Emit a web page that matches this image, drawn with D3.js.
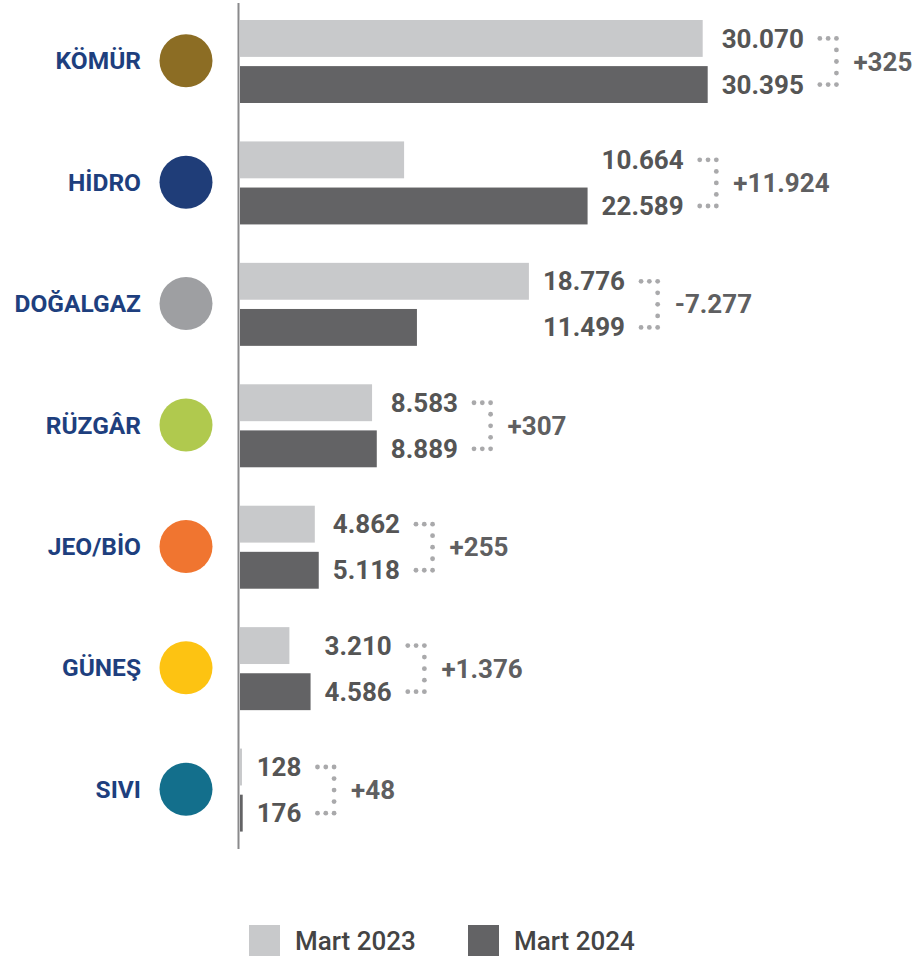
<!DOCTYPE html>
<meta charset="utf-8">
<body style="margin:0;background:#fff;">
<script src="https://d3js.org/d3.v7.min.js"></script>
<script>
	// Data
	var categories = ["KÖMÜR", "HİDRO", "DOĞALGAZ", "RÜZGÂR", "JEO/BİO", "GÜNEŞ", "SIVI"];
	var dotColors = ["#8c6d24", "#1f3d78", "#9e9fa2", "#b0c94e", "#f07530", "#fdc312", "#136f8c"];
	var mart2023 = [30070, 10664, 18776, 8583, 4862, 3210, 128];
	var mart2024 = [30395, 22589, 11499, 8889, 5118, 4586, 176];
	// differences as printed (computed from unrounded source values)
	var diffs = [325, 11924, -7277, 307, 255, 1376, 48];
	var series = ["Mart 2023", "Mart 2024"];
	var seriesColors = ["#c8c9cb", "#636365"];

	var width = 924, height = 958;
	var fmt = function(v) { return d3.format(",")(v).replace(/,/g, "."); };
	var fmtDiff = function(v) { return (v > 0 ? "+" : "-") + fmt(Math.abs(v)); };

	var svg = d3.select("body").append("svg")
		.attr("width", width)
		.attr("height", height)
		.style("font-family", "Roboto, sans-serif");

	var x = d3.scaleLinear()
		.domain([0, 31000])
		.range([240, 717]);

	var y = d3.scaleBand()
		.domain(categories)
		.range([0, 850]);

	var yInner = d3.scaleBand()
		.domain(series)
		.range([20, 103])
		.paddingInner(0.2);

	var rows = categories.map(function(c, i) {
		return {cat: c, color: dotColors[i], vals: [mart2023[i], mart2024[i]], diff: diffs[i]};
	});

	var g = svg.selectAll(".row")
		.data(rows)
	  .enter().append("g")
		.attr("class", "row")
		.attr("transform", function(d) { return "translate(0," + y(d.cat) + ")"; });

	var mid = y.bandwidth() / 2;

	// category label + dot
	g.append("text")
		.attr("x", 141)
		.attr("y", mid)
		.attr("dy", "0.35em")
		.attr("text-anchor", "end")
		.style("font-size", "24.5px")
		.style("font-weight", 700)
		.style("fill", "#1e3f7e")
		.text(function(d) { return d.cat; });

	g.append("circle")
		.attr("cx", 186)
		.attr("cy", mid)
		.attr("r", 26.5)
		.style("fill", function(d) { return d.color; });

	// bars
	g.selectAll(".bar")
		.data(function(d) { return d.vals.map(function(v, j) { return {s: series[j], v: v, j: j}; }); })
	  .enter().append("rect")
		.attr("class", "bar")
		.attr("x", x(0))
		.attr("y", function(d) { return yInner(d.s); })
		.attr("width", function(d) { return x(d.v) - x(0); })
		.attr("height", yInner.bandwidth())
		.style("fill", function(d) { return seriesColors[d.j]; });

	// value labels, bracket and difference
	g.each(function(d) {
		var row = d3.select(this);
		var lx = x(d3.max(d.vals)) + 14;
		var tw = 0;
		d.vals.forEach(function(v, j) {
			var t = row.append("text")
				.attr("x", lx)
				.attr("y", yInner(series[j]) + yInner.bandwidth() / 2)
				.attr("dy", "0.35em")
				.style("font-size", "26px")
				.style("font-weight", 700)
				.style("fill", "#555")
				.text(fmt(v));
			tw = Math.max(tw, t.node().getComputedTextLength());
		});
		var bx = lx + tw + 16;
		var yTop = yInner(series[0]) + yInner.bandwidth() / 2;
		var yBot = yInner(series[1]) + yInner.bandwidth() / 2;
		var dots = [];
		[yTop, yBot].forEach(function(yy) {
			for (var k = 0; k < 3; k++) dots.push([bx + k * 8.3, yy]);
		});
		for (var k = 1; k < 4; k++) dots.push([bx + 16.6, yTop + (yBot - yTop) * k / 4]);
		row.selectAll(".dot")
			.data(dots)
		  .enter().append("circle")
			.attr("class", "dot")
			.attr("cx", function(p) { return p[0]; })
			.attr("cy", function(p) { return p[1]; })
			.attr("r", 2.4)
			.style("fill", "#a9a9ab");
		row.append("text")
			.attr("x", bx + 16.6 + 17)
			.attr("y", (yTop + yBot) / 2)
			.attr("dy", "0.35em")
			.style("font-size", "26px")
			.style("font-weight", 700)
			.style("fill", "#5f5f61")
			.text(fmtDiff(d.diff));
	});

	// axis line
	svg.append("line")
		.attr("x1", 238.5).attr("x2", 238.5)
		.attr("y1", 3).attr("y2", 849)
		.style("stroke", "#8a8a8c")
		.style("stroke-width", 2);

	// legend
	var legendX = [249, 468];
	var lg = svg.selectAll(".legend")
		.data(series)
	  .enter().append("g")
		.attr("class", "legend")
		.attr("transform", function(d, i) { return "translate(" + legendX[i] + ",925)"; });
	lg.append("rect")
		.attr("width", 31)
		.attr("height", 31)
		.style("fill", function(d, i) { return seriesColors[i]; });
	lg.append("text")
		.attr("x", 46)
		.attr("y", 16)
		.attr("dy", "0.35em")
		.style("font-size", "26px")
		.style("font-weight", 500)
		.style("fill", "#444")
		.text(function(d) { return d; });
</script>
</body>
